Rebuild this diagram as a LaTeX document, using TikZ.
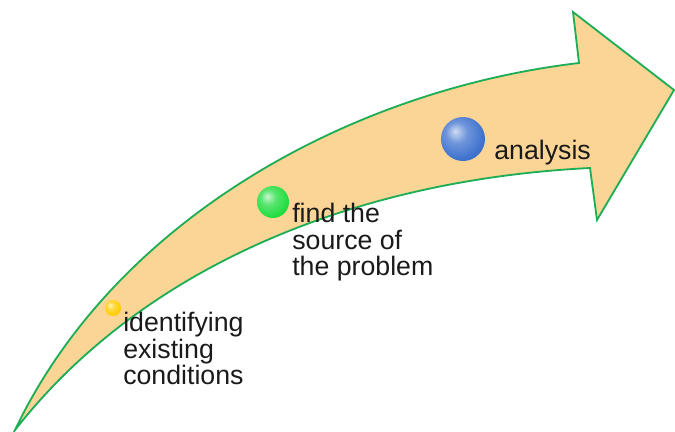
\documentclass[tikz,border=0pt]{standalone}
\usepackage{fontspec}
\setmainfont{Liberation Sans}
\usetikzlibrary{positioning}
\definecolor{arrow-fill}{HTML}{FBD595}
\definecolor{arrow-border}{HTML}{1DAE55}
\definecolor{ball-yellow}{HTML}{FFCC00}
\definecolor{ball-green}{HTML}{22DD40}
\definecolor{ball-blue}{HTML}{3F72CE}
\definecolor{label-ink}{HTML}{1A1A1A}
\colorlet{ball-base}{ball-blue}
\pgfdeclareradialshading[ball-base]{glossy-ball}{\pgfpoint{-9bp}{9bp}}{%
  color(0bp)=(ball-base!25!white); color(12bp)=(ball-base!75!white);
  color(28bp)=(ball-base); color(45bp)=(ball-base!85!black);
  color(65bp)=(ball-base!65!black)}
\tikzset{
  arrow-body/.style={draw=arrow-border, fill=arrow-fill, line width=1.3pt, line join=miter},
  step-ball/.style={
    circle, inner sep=0pt, draw=none,
    /utils/exec={\colorlet{ball-base}{#1}}, shading=glossy-ball
  },
  step-label/.style={
    anchor=north west, inner sep=0pt, align=left, text=label-ink,
    font=\fontsize{19pt}{18.8pt}\selectfont
  }
}

\begin{document}
\begin{tikzpicture}[x=0.025cm, y=-0.025cm]
  \useasboundingbox (0,0) rectangle (675,432);

  % Bogen-Pfeil
  \coordinate (tail) at (15,430);
  \coordinate (shaft-top) at (579,63);
  \coordinate (head-top) at (573,12);
  \coordinate (head-tip) at (674,90);
  \coordinate (head-bottom) at (597,220);
  \coordinate (shaft-bottom) at (590,168);
  \draw[arrow-body] (tail) .. controls (115,220) and (350,90) .. (shaft-top)
    -- (head-top) -- (head-tip) -- (head-bottom) -- (shaft-bottom)
    .. controls (350,180) and (140,270) .. (tail) -- cycle;

  % Kugeln
  \node[step-ball=ball-yellow, minimum size=0.4cm] (ball-one) at (113,308) {};
  \node[step-ball=ball-green, minimum size=0.8cm] (ball-two) at (273,202) {};
  \node[step-ball=ball-blue, minimum size=1.1cm] (ball-three) at (463,139) {};

  % Beschriftungen
  \node[step-label] (label-one) at (123,312) {identifying\\existing\\conditions};
  \node[step-label] (label-two) at (292,203) {find the\\source of\\the problem};
  \node[step-label] (label-three) at (494,140) {analysis};
\end{tikzpicture}
\end{document}
